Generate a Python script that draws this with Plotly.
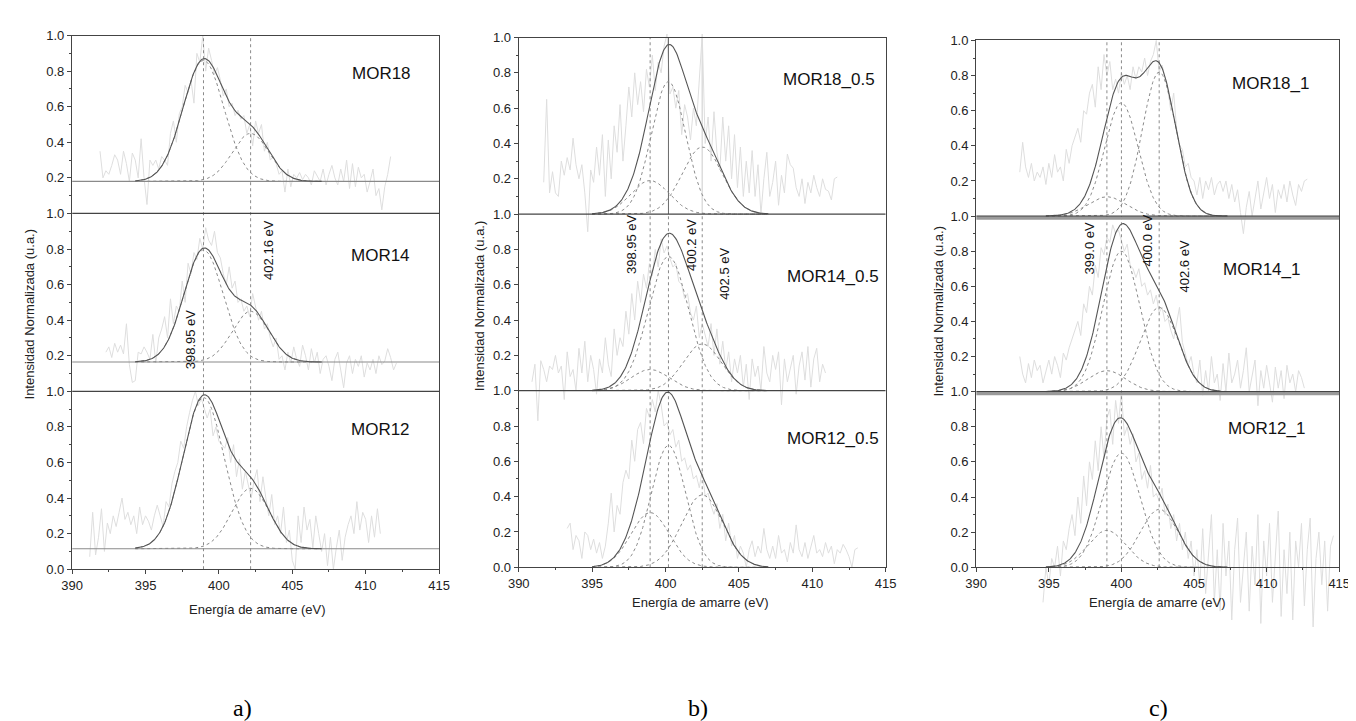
import numpy as np
import plotly.graph_objects as go

W, H = 1356, 721

# ---------------- DATA ----------------
x_ticks = [390, 395, 400, 405, 410, 415]
y_tickvals = [round(0.2 * i, 1) for i in range(16)]
y_ticktext = ["0.0", "0.2", "0.4", "0.6", "0.8", "1.0",
              "0.2", "0.4", "0.6", "0.8", "1.0",
              "0.2", "0.4", "0.6", "0.8", "1.0"]
column_tags = ["a)", "b)", "c)"]
y_title = "Intensidad Normalizada (u.a.)"
x_title = "Energía de amarre (eV)"

# ---- column a ----  (panels listed top -> bottom)
a_labels = ["MOR18", "MOR14", "MOR12"]
a_centers = [398.95, 402.16]
a_center_text = ["398.95 eV", "402.16 eV"]
a_baseline = [0.18, 0.165, 0.115]
a_heights = [[0.68, 0.27], [0.63, 0.285], [0.85, 0.34]]
a_sigmas = [[1.40, 1.25], [1.33, 1.25], [1.41, 1.28]]
a_fit_range = [394.3, 407.0]
a_noise_start = [391.9, 392.3, 391.2]
a_noise_step = 0.2
a_noise_top = [0.35, 0.2, 0.24, 0.22, 0.27, 0.33, 0.3, 0.22, 0.35, 0.28,
               0.18, 0.34, 0.3, 0.2, 0.42, 0.2, 0.05, 0.3, 0.27, 0.3,
               0.25, 0.32, 0.3, 0.27, 0.45, 0.52, 0.4, 0.56, 0.6, 0.72,
               0.68, 0.75, 0.62, 0.9, 0.85, 1.0, 0.8, 0.93, 0.86, 0.78,
               0.82, 0.75, 0.66, 0.7, 0.6, 0.62, 0.55, 0.58, 0.53, 0.55,
               0.45, 0.5, 0.38, 0.52, 0.45, 0.5, 0.35, 0.4, 0.3, 0.32,
               0.28, 0.22, 0.24, 0.12, 0.25, 0.15, 0.22, 0.2, 0.23, 0.19,
               0.22, 0.2, 0.16, 0.24, 0.21, 0.18, 0.25, 0.16, 0.22, 0.27,
               0.2, 0.16, 0.25, 0.18, 0.3, 0.14, 0.28, 0.15, 0.26, 0.2,
               0.22, 0.12, 0.18, 0.25, 0.1, 0.14, 0.02, 0.15, 0.22, 0.32]
a_noise_mid = [0.22, 0.25, 0.19, 0.27, 0.22, 0.26, 0.21, 0.38, 0.15, 0.05,
               0.06, 0.22, 0.21, 0.25, 0.22, 0.18, 0.32, 0.16, 0.3, 0.35,
               0.42, 0.3, 0.52, 0.38, 0.48, 0.45, 0.62, 0.5, 0.72, 0.66,
               0.78, 0.74, 0.86, 0.8, 0.92, 0.85, 0.82, 0.9, 0.78, 0.75,
               0.66, 0.6, 0.7, 0.58, 0.62, 0.5, 0.52, 0.45, 0.48, 0.42,
               0.55, 0.48, 0.4, 0.45, 0.35, 0.38, 0.3, 0.25, 0.3, 0.18,
               0.2, 0.12, 0.22, 0.16, 0.25, 0.18, 0.14, 0.26, 0.2, 0.12,
               0.24, 0.16, 0.22, 0.1, 0.18, 0.2, 0.14, 0.06, 0.18, 0.22,
               0.12, 0.02, 0.16, 0.2, 0.1, 0.18, 0.14, 0.2, 0.08, 0.16,
               0.12, 0.18, 0.1, 0.2, 0.15, 0.17, 0.24, 0.19, 0.12, 0.16]
a_noise_bot = [0.07, 0.32, 0.08, 0.18, 0.34, 0.1, 0.26, 0.2, 0.3, 0.24,
               0.32, 0.4, 0.28, 0.32, 0.25, 0.3, 0.2, 0.35, 0.25, 0.3,
               0.27, 0.22, 0.3, 0.36, 0.3, 0.24, 0.38, 0.35, 0.48, 0.55,
               0.6, 0.72, 0.68, 0.8, 0.88, 0.95, 1.0, 0.92, 0.96, 0.9,
               0.85, 0.9, 0.75, 0.8, 0.72, 0.7, 0.68, 0.74, 0.6, 0.7,
               0.52, 0.62, 0.45, 0.55, 0.48, 0.4, 0.5, 0.56, 0.38, 0.52,
               0.4, 0.3, 0.42, 0.25, 0.3, 0.2, 0.35, 0.15, 0.22, 0.05,
               0.0, 0.3, 0.15, 0.35, 0.22, 0.28, 0.12, 0.3, 0.2, 0.1,
               0.2, 0.02, 0.18, 0.0, 0.12, 0.22, 0.05, 0.18, 0.25, 0.3,
               0.2, 0.38, 0.22, 0.32, 0.28, 0.15, 0.3, 0.18, 0.34, 0.2]

# ---- column b ----
b_labels = ["MOR18_0.5", "MOR14_0.5", "MOR12_0.5"]
b_centers = [398.95, 400.2, 402.5]
b_center_text = ["398.95 eV", "400.2 eV", "402.5 eV"]
b_baseline = [0.0, 0.0, 0.0]
b_heights = [[0.19, 0.75, 0.38], [0.12, 0.76, 0.265], [0.31, 0.69, 0.41]]
b_sigmas = [[1.3, 1.17, 1.36], [1.3, 1.37, 1.3], [1.3, 1.17, 1.4]]
b_fit_range = [395.0, 407.0]
b_noise_start = [391.7, 390.9, 393.3]
b_noise_step = 0.2
b_noise_top = [0.18, 0.65, 0.12, 0.24, 0.12, 0.1, 0.3, 0.22, 0.32, 0.25,
               0.43, 0.28, 0.2, 0.28, 0.12, -0.1, 0.25, 0.18, 0.38, 0.22,
               0.45, 0.1, 0.42, 0.2, 0.5, 0.35, 0.62, 0.3, 0.5, 0.72,
               0.55, 0.8, 0.62, 0.75, 0.58, 0.82, 0.72, 0.9, 0.7, 0.86,
               0.8, 0.95, 1.02, 0.68, 0.72, 0.6, 0.7, 0.45, 0.62, 0.55,
               0.42, 0.6, 0.5, 0.78, 1.02, 0.4, 0.55, 0.3, 0.58, 0.35,
               0.25, 0.55, 0.3, 0.5, 0.2, 0.45, 0.15, 0.38, 0.1, 0.3,
               0.12, 0.36, 0.1, 0.28, 0.0, 0.2, 0.35, 0.1, 0.18, 0.3,
               0.05, 0.22, 0.12, 0.34, 0.28, 0.26, 0.15, 0.1, 0.2, 0.06,
               0.18, 0.12, 0.22, 0.15, 0.1, 0.2, 0.14, 0.13, 0.08, 0.2,
               0.21]
b_noise_mid = [0.05, 0.15, -0.17, 0.17, 0.12, 0.05, 0.14, 0.12, 0.2, 0.1,
               0.14, -0.05, 0.22, 0.08, 0.12, 0.0, 0.24, 0.1, 0.28, 0.05,
               0.2, 0.12, -0.02, 0.18, 0.1, 0.3, 0.15, 0.08, 0.35, 0.2,
               0.3, 0.25, 0.45, 0.32, 0.55, 0.4, 0.62, 0.5, 0.66, 0.58,
               0.72, 0.65, 0.8, 0.7, 0.86, 0.78, 0.82, 0.75, 0.7, 0.72,
               0.62, 0.6, 0.52, 0.55, 0.44, 0.4, 0.48, 0.3, 0.38, 0.32,
               0.25, 0.38, 0.2, 0.35, 0.15, 0.28, 0.12, 0.22, 0.05, 0.18,
               0.1, 0.2, 0.02, 0.15, -0.05, 0.18, 0.08, 0.14, 0.0, 0.25,
               0.1, 0.05, 0.2, 0.12, 0.22, -0.08, 0.18, 0.05, 0.12, 0.2,
               -0.02, 0.14, 0.22, 0.06, 0.25, 0.02, 0.18, 0.24, 0.05, 0.15,
               0.1]
b_noise_bot = [0.22, 0.25, 0.1, 0.18, 0.15, 0.05, 0.2, 0.18, 0.1, 0.16,
               0.08, 0.14, 0.05, 0.12, 0.25, 0.42, 0.2, 0.35, 0.3, 0.48,
               0.55, 0.5, 0.72, 0.6, 0.78, 0.82, 0.7, 0.9, 0.85, 0.95,
               0.88, 1.0, 0.92, 0.8, 0.82, 0.75, 0.78, 0.68, 0.72, 0.6,
               0.62, 0.55, 0.58, 0.5, 0.52, 0.45, 0.55, 0.4, 0.42, 0.35,
               0.3, 0.36, 0.22, 0.3, 0.15, 0.25, 0.12, 0.18, 0.05, 0.12,
               0.08, 0.0, 0.1, 0.15, 0.06, 0.12, 0.08, 0.22, 0.1, 0.05,
               0.12, 0.05, 0.18, 0.08, 0.1, 0.03, 0.14, 0.08, 0.24, 0.1,
               0.06, 0.14, 0.05, 0.12, 0.18, 0.08, 0.1, 0.06, 0.14, 0.08,
               0.12, 0.02, 0.1, 0.08, 0.13, 0.1, 0.06, 0.0, 0.1, 0.11]

# ---- column c ----
c_labels = ["MOR18_1", "MOR14_1", "MOR12_1"]
c_centers = [399.0, 400.0, 402.6]
c_center_text = ["399.0 eV", "400.0 eV", "402.6 eV"]
c_baseline = [0.0, 0.0, 0.0]
c_heights = [[0.11, 0.645, 0.82], [0.12, 0.80, 0.48], [0.21, 0.65, 0.33]]
c_sigmas = [[1.3, 1.15, 1.15], [1.3, 1.27, 1.3], [1.3, 1.3, 1.3]]
c_fit_range = [394.8, 407.3]
c_noise_start = [393.0, 393.0, 394.6]
c_noise_step = 0.2
c_noise_top = [0.25, 0.42, 0.28, 0.22, 0.3, 0.2, 0.25, 0.22, 0.28, 0.18,
               0.3, 0.22, 0.35, 0.25, 0.28, 0.2, 0.38, 0.3, 0.4, 0.45,
               0.5, 0.42, 0.6, 0.58, 0.7, 0.75, 0.62, 0.85, 0.72, 0.92,
               0.8, 0.88, 0.72, 0.78, 0.7, 0.82, 0.75, 0.8, 0.72, 0.85,
               0.78, 0.85, 0.82, 0.9, 0.8, 0.88, 0.92, 1.0, 0.82, 0.86,
               0.78, 0.72, 0.6, 0.7, 0.5, 0.4, 0.38, 0.28, 0.3, 0.22,
               0.2, 0.12, 0.22, 0.1, 0.2, 0.15, 0.22, 0.12, 0.18, 0.2,
               0.14, 0.2, 0.1, 0.18, 0.08, 0.15, 0.02, -0.1, 0.05, 0.14,
               0.0, 0.1, 0.2, 0.04, 0.12, 0.22, 0.1, 0.18, 0.02, 0.15,
               0.1, 0.18, 0.08, 0.2, 0.12, 0.06, 0.18, 0.14, 0.2, 0.21]
c_noise_mid = [0.2, 0.1, 0.05, 0.16, 0.08, 0.18, 0.12, 0.15, 0.05, 0.12,
               0.18, 0.1, 0.2, 0.15, 0.08, 0.22, 0.18, 0.25, 0.3, 0.35,
               0.4, 0.32, 0.5, 0.45, 0.6, 0.55, 0.72, 0.65, 0.82, 0.78,
               0.88, 0.85, 0.95, 0.9, 0.92, 0.86, 0.8, 0.84, 0.72, 0.7,
               0.65, 0.7, 0.6, 0.62, 0.55, 0.58, 0.5, 0.55, 0.45, 0.48,
               0.4, 0.42, 0.35, 0.3, 0.38, 0.48, 0.28, 0.22, 0.15, 0.2,
               0.1, 0.05, 0.18, -0.02, 0.12, 0.0, 0.2, 0.05, 0.1, -0.05,
               0.16, 0.0, 0.22, 0.05, 0.1, 0.18, 0.02, 0.12, 0.25, 0.0,
               0.08, 0.18, -0.08, 0.12, 0.02, 0.15, 0.05, -0.06, 0.14, 0.02,
               0.12, -0.04, 0.15, 0.05, 0.1, 0.0, 0.12, 0.08, 0.02]
c_noise_bot = [-0.2, 0.0, -0.1, 0.05, 0.0, 0.12, -0.05, 0.15, 0.1, 0.22,
               0.3, 0.18, 0.4, 0.25, 0.52, 0.35, 0.6, 0.5, 0.72, 0.55,
               0.8, 0.62, 0.85, 0.9, 0.7, 0.95, 0.82, 1.0, 0.75, 0.8,
               0.7, 0.76, 0.6, 0.65, 0.5, 0.55, 0.45, 0.58, 0.4, 0.42,
               0.38, 0.45, 0.3, 0.36, 0.22, 0.3, 0.15, 0.25, 0.1, 0.2,
               0.05, 0.15, -0.05, 0.1, -0.1, 0.22, -0.15, 0.05, 0.3, -0.2,
               0.1, -0.25, 0.25, -0.05, 0.15, -0.3, 0.1, 0.28, -0.2, 0.0,
               0.2, -0.25, 0.12, -0.1, 0.3, -0.32, 0.15, -0.05, 0.25, -0.2,
               0.05, 0.32, -0.28, 0.1, -0.15, 0.2, -0.3, 0.15, 0.0, 0.25,
               -0.22, 0.1, 0.28, -0.34, 0.05, 0.2, -0.1, 0.15, -0.25, 0.12,
               0.18]

columns = [
    dict(labels=a_labels, centers=a_centers, ctext=a_center_text, base=a_baseline,
         heights=a_heights, sigmas=a_sigmas, fit=a_fit_range,
         nstart=a_noise_start, nstep=a_noise_step, noise=[a_noise_top, a_noise_mid, a_noise_bot]),
    dict(labels=b_labels, centers=b_centers, ctext=b_center_text, base=b_baseline,
         heights=b_heights, sigmas=b_sigmas, fit=b_fit_range,
         nstart=b_noise_start, nstep=b_noise_step, noise=[b_noise_top, b_noise_mid, b_noise_bot]),
    dict(labels=c_labels, centers=c_centers, ctext=c_center_text, base=c_baseline,
         heights=c_heights, sigmas=c_sigmas, fit=c_fit_range,
         nstart=c_noise_start, nstep=c_noise_step, noise=[c_noise_top, c_noise_mid, c_noise_bot]),
]

# ---------------- LAYOUT (pixels) ----------------
frames = [  # x0, x1, ytop, ybottom
    (54, 427, 21, 566),
    (508, 881, 23, 564),
    (973, 1342, 26, 564),
]
label_pos = [  # panel name centres (top->bottom)
    [(368, 60), (367, 246), (367, 423)],
    [(823, 66), (827, 267), (827, 433)],
    [(1272, 70), (1263, 260), (1268, 422)],
]
vlabel_pos = [
    [(174, 331), (253, 240)],
    [(622, 234), (683, 235), (717, 264)],
    [(1088, 238), (1147, 230), (1185, 257)],
]
ytitle_pos = [(11, 305), (468, 297), (935, 302)]
xtitle_pos = [(242, 607), (693, 600), (1157, 600)]
tag_pos = [(227, 708), (690, 708), (1158, 708)]

FONT = "Liberation Sans, Arial, sans-serif"
FRAME_C = "#444444"
FIT_C = "#555555"
COMP_C = "#8a8a8a"
NOISE_C = "#dedede"


def px(x):
    return x / W


def py(y):
    return 1 - y / H


def gauss(x, c, h, s):
    return h * np.exp(-(x - c) ** 2 / (2 * s * s))


fig = go.Figure()
layout = dict(
    width=W, height=H, margin=dict(l=0, r=0, t=0, b=0),
    paper_bgcolor="white", plot_bgcolor="rgba(0,0,0,0)",
    showlegend=False, hovermode=False,
    font=dict(family=FONT, size=12, color="#222"),
)
annotations = []
shapes = []

for ci, col in enumerate(columns):
    x0, x1, yt, yb = frames[ci]
    nid = 2 * ci + 1   # hidden axes for raw (noisy) spectra, extended domain
    fid = 2 * ci + 2   # framed axes
    nx, ny = ("x" if nid == 1 else f"x{nid}"), ("y" if nid == 1 else f"y{nid}")
    fx, fy = f"x{fid}", f"y{fid}"
    scale = 3.0 / (yb - yt)
    ext_top, ext_bot = 20, 75
    layout["xaxis" if nid == 1 else f"xaxis{nid}"] = dict(
        domain=[px(x0), px(x1)], range=[390, 415], visible=False, anchor=ny)
    layout["yaxis" if nid == 1 else f"yaxis{nid}"] = dict(
        domain=[py(yb + ext_bot), py(yt - ext_top)],
        range=[-ext_bot * scale, 3 + ext_top * scale], visible=False, anchor=nx)
    layout[f"xaxis{fid}"] = dict(
        domain=[px(x0), px(x1)], range=[390, 415], anchor=fy,
        tickmode="array", tickvals=x_ticks, ticks="outside", ticklen=4,
        tickcolor=FRAME_C, showline=True, linecolor=FRAME_C, linewidth=1.3,
        mirror=True, showgrid=False, zeroline=False,
        tickfont=dict(family=FONT, size=13, color="#222"),
        minor=dict(tickmode="linear", tick0=390, dtick=2.5, ticks="outside",
                   ticklen=2, tickcolor=FRAME_C, showgrid=False))
    layout[f"yaxis{fid}"] = dict(
        domain=[py(yb), py(yt)], range=[0, 3], anchor=fx,
        tickmode="array", tickvals=y_tickvals, ticktext=y_ticktext,
        ticks="outside", ticklen=4, tickcolor=FRAME_C, showline=True,
        linecolor=FRAME_C, linewidth=1.3, mirror=True, showgrid=False,
        zeroline=False, tickfont=dict(family=FONT, size=13, color="#222"),
        minor=dict(tickmode="linear", tick0=0, dtick=0.1, ticks="outside",
                   ticklen=2, tickcolor=FRAME_C, showgrid=False))

    # raw spectra
    for pi in range(3):
        off = 2 - pi
        vals = col["noise"][pi]
        xs = [col["nstart"][pi] + col["nstep"] * k for k in range(len(vals))]
        fig.add_trace(go.Scatter(x=xs, y=[v + off for v in vals], mode="lines",
                                 line=dict(color=NOISE_C, width=1),
                                 xaxis=nx, yaxis=ny))

    # baselines / separators
    for pi in range(3):
        off = 2 - pi
        if ci == 0:
            fig.add_trace(go.Scatter(x=[390, 415], y=[col["base"][pi] + off] * 2, mode="lines",
                                     line=dict(color="#8a8a8a", width=1.2), xaxis=fx, yaxis=fy))
        if pi > 0:
            if ci == 2:
                shapes.append(dict(type="line", xref=fx, yref=fy, x0=390, x1=415,
                                   y0=off + 1 - 0.012, y1=off + 1 - 0.012,
                                   line=dict(color="#9a9a9a", width=3)))
            shapes.append(dict(type="line", xref=fx, yref=fy, x0=390, x1=415,
                               y0=off + 1, y1=off + 1,
                               line=dict(color=FRAME_C, width=1.3)))

    # vertical reference lines
    for k, c in enumerate(col["centers"]):
        if ci == 1 and k == 1:
            fig.add_trace(go.Scatter(x=[c, c], y=[0, 2], mode="lines",
                                     line=dict(color=COMP_C, width=1, dash="dot"), xaxis=fx, yaxis=fy))
            fig.add_trace(go.Scatter(x=[c, c], y=[2, 3], mode="lines",
                                     line=dict(color="#6a6a6a", width=1), xaxis=fx, yaxis=fy))
        elif ci == 1 and k == 2:
            fig.add_trace(go.Scatter(x=[c, c], y=[0, 2], mode="lines",
                                     line=dict(color=COMP_C, width=1, dash="dot"), xaxis=fx, yaxis=fy))
            fig.add_trace(go.Scatter(x=[c, c], y=[2, 3], mode="lines",
                                     line=dict(color="#dddddd", width=1.5), xaxis=fx, yaxis=fy))
        else:
            fig.add_trace(go.Scatter(x=[c, c], y=[0, 3], mode="lines",
                                     line=dict(color=COMP_C, width=1, dash="dot"), xaxis=fx, yaxis=fy))

    # fitted components + envelope
    xf = np.arange(col["fit"][0], col["fit"][1] + 1e-9, 0.05)
    for pi in range(3):
        off = 2 - pi
        base = col["base"][pi]
        total = np.full_like(xf, base)
        for c, h, s in zip(col["centers"], col["heights"][pi], col["sigmas"][pi]):
            comp = gauss(xf, c, h, s)
            total = total + comp
            fig.add_trace(go.Scatter(x=xf, y=base + comp + off, mode="lines",
                                     line=dict(color=COMP_C, width=1, dash="dot"),
                                     xaxis=fx, yaxis=fy))
        fig.add_trace(go.Scatter(x=xf, y=total + off, mode="lines",
                                 line=dict(color=FIT_C, width=1.1),
                                 xaxis=fx, yaxis=fy))

    # text
    for pi, name in enumerate(col["labels"]):
        lx, ly = label_pos[ci][pi]
        annotations.append(dict(x=px(lx), y=py(ly), xref="paper", yref="paper",
                                text=name, showarrow=False, xanchor="center", yanchor="middle",
                                font=dict(family=FONT, size=17, color="#111")))
    for k, t in enumerate(col["ctext"]):
        lx, ly = vlabel_pos[ci][k]
        annotations.append(dict(x=px(lx), y=py(ly), xref="paper", yref="paper",
                                text=t, textangle=-90, showarrow=False,
                                xanchor="center", yanchor="middle",
                                font=dict(family=FONT, size=13, color="#111")))
    tx, ty = ytitle_pos[ci]
    annotations.append(dict(x=px(tx), y=py(ty), xref="paper", yref="paper",
                            text=y_title, textangle=-90, showarrow=False,
                            xanchor="center", yanchor="middle",
                            font=dict(family=FONT, size=13, color="#222")))
    tx, ty = xtitle_pos[ci]
    annotations.append(dict(x=px(tx), y=py(ty), xref="paper", yref="paper",
                            text=x_title, showarrow=False,
                            xanchor="center", yanchor="middle",
                            font=dict(family=FONT, size=13, color="#222")))
    tx, ty = tag_pos[ci]
    annotations.append(dict(x=px(tx), y=py(ty), xref="paper", yref="paper",
                            text=column_tags[ci], showarrow=False,
                            xanchor="center", yanchor="middle",
                            font=dict(family="Liberation Serif, Times New Roman, serif",
                                      size=24, color="#000")))

layout["annotations"] = annotations
layout["shapes"] = shapes
fig.update_layout(**layout)
fig.write_html("out.html")
